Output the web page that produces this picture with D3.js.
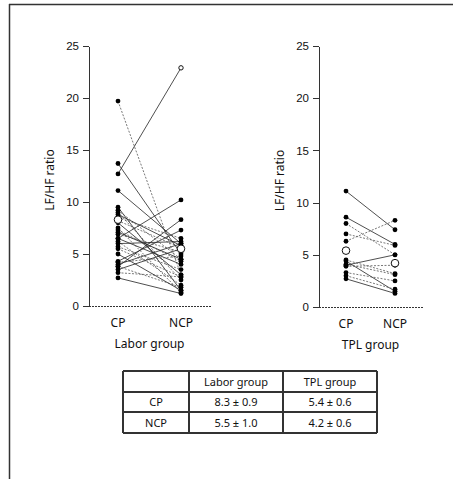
<!DOCTYPE html>
<meta charset="utf-8">
<style>
body { margin: 0; background: #fff; }
svg { font-family: "Noto Sans", "Open Sans", sans-serif; }
.axis path, .axis line { stroke: #333; stroke-width: 1; shape-rendering: crispEdges; }
.axis text { font-size: 11.5px; fill: #111; }
.pair { fill: none; stroke: #222; stroke-width: 0.8; }
.pair.dash { stroke: #555; stroke-dasharray: 2,1.5; }
.dot { fill: #000; }
.mean { fill: #fff; stroke: #111; stroke-width: 1; }
.tbl line { stroke: #333; stroke-width: 1.3; shape-rendering: crispEdges; }
.tbl text { font-size: 11px; fill: #111; text-anchor: middle; }
</style>
<svg width="453" height="479"></svg>
<script src="https://cdn.jsdelivr.net/npm/d3@7"></script>
<script>

// conditions
var conditions = ["CP", "NCP"];
var yTicks = [0, 5, 10, 15, 20, 25];

// Labor group: CP / NCP per subject, dash flag = dotted connector
var laborCP  = [19.7, 12.7, 13.7, 11.1, 9.5, 9.2, 9.0, 8.8, 8.5, 8.0, 7.5, 6.5, 6.9, 6.5, 6.2, 6.0, 5.7, 3.8, 4.3, 4.2, 4.0, 3.5, 3.2, 2.7, 3.8, 7.3, 5.0, 8.2, 7.1, 5.5];
var laborNCP = [3.0, 22.9, 5.0, 6.0, 1.5, 4.5, 2.5, 5.8, 6.5, 3.0, 1.3, 10.2, 5.2, 4.0, 2.0, 6.2, 3.5, 8.3, 7.3, 4.8, 6.0, 5.5, 2.8, 1.2, 1.8, 4.3, 1.5, 5.6, 4.5, 2.8];
var laborDash = [1, 0, 0, 0, 0, 1, 1, 0, 1, 0, 1, 0, 1, 0, 1, 0, 1, 0, 0, 1, 0, 0, 1, 0, 1, 1, 0, 1, 0, 1];
var laborMean = [8.3, 5.5];

// TPL group
var tplCP  = [11.1, 8.6, 8.0, 7.0, 6.3, 4.4, 4.1, 4.0, 3.9, 3.3, 2.7, 3.0, 4.5];
var tplNCP = [7.4, 6.0, 5.0, 5.9, 8.3, 1.5, 3.1, 5.0, 4.0, 2.5, 1.3, 1.7, 3.2];
var tplDash = [0, 0, 1, 1, 1, 0, 1, 0, 1, 1, 0, 1, 1];
var tplMean = [5.4, 4.2];

// summary table
var tableHeader = ["", "Labor group", "TPL group"];
var tableRows = [
  ["CP", "8.3 \u00b1 0.9", "5.4 \u00b1 0.6"],
  ["NCP", "5.5 \u00b1 1.0", "4.2 \u00b1 0.6"]
];

var svg = d3.select("svg");

// frame (top + left only, like the scan)
svg.append("line").attr("x1", 9).attr("y1", 4.5).attr("x2", 453).attr("y2", 4.5)
    .attr("stroke", "#333").attr("stroke-width", 1.5);
svg.append("line").attr("x1", 9.5).attr("y1", 4).attr("x2", 9.5).attr("y2", 479)
    .attr("stroke", "#333").attr("stroke-width", 1.5);

function panel(opt) {
  var g = svg.append("g");
  var y = d3.scaleLinear().domain([0, 25]).range([opt.y0, opt.y25]);
  var x = d3.scalePoint().domain(conditions).range([opt.cpX, opt.ncpX]);

  g.append("g").attr("class", "axis")
      .attr("transform", "translate(" + opt.axisX + ",0)")
      .call(d3.axisLeft(y).tickValues(yTicks).tickSize(6).tickSizeOuter(0).tickPadding(4));

  g.append("line")
      .attr("x1", opt.axisX).attr("x2", opt.axisEnd)
      .attr("y1", y(0) + 0.5).attr("y2", y(0) + 0.5)
      .attr("stroke", "#333").attr("stroke-dasharray", "2,1");

  var pairs = opt.cp.map(function(v, i) { return { cp: v, ncp: opt.ncp[i], dash: opt.dash[i] }; });

  g.selectAll(".pair").data(pairs).enter().append("line")
      .attr("class", function(d) { return d.dash ? "pair dash" : "pair"; })
      .attr("x1", x("CP")).attr("y1", function(d) { return y(d.cp); })
      .attr("x2", x("NCP")).attr("y2", function(d) { return y(d.ncp); });

  g.selectAll(".dcp").data(pairs).enter().append("circle")
      .attr("class", "dot").attr("r", 2.4)
      .attr("cx", x("CP")).attr("cy", function(d) { return y(d.cp); });
  g.selectAll(".dncp").data(pairs).enter().append("circle")
      .attr("class", "dot").attr("r", 2.4)
      .attr("cx", x("NCP")).attr("cy", function(d) { return y(d.ncp); })
      .filter(function(d) { return d.ncp > 20; })
      .attr("class", "mean").attr("r", 2.2);

  g.selectAll(".mean-pt").data(opt.mean).enter().append("circle")
      .attr("class", "mean").attr("r", 3.8)
      .attr("cx", function(d, i) { return x(conditions[i]); })
      .attr("cy", function(d) { return y(d); });

  g.selectAll(".cond").data(conditions).enter().append("text")
      .attr("x", function(d) { return x(d); }).attr("y", opt.y0 + 21)
      .attr("text-anchor", "middle").style("font-size", "12px").attr("fill", "#111")
      .text(function(d) { return d; });

  g.append("text")
      .attr("x", (opt.cpX + opt.ncpX) / 2).attr("y", opt.y0 + 42)
      .attr("text-anchor", "middle").style("font-size", "12px").attr("fill", "#111")
      .text(opt.title);

  g.append("text")
      .attr("transform", "translate(" + opt.labelX + "," + ((opt.y0 + opt.y25) / 2 + 4) + ") rotate(-90)")
      .attr("text-anchor", "middle").style("font-size", "12px").attr("fill", "#111")
      .text("LF/HF ratio");
}

panel({ axisX: 89, axisEnd: 211, cpX: 118, ncpX: 181, y0: 306, y25: 46, labelX: 54,
        cp: laborCP, ncp: laborNCP, dash: laborDash, mean: laborMean, title: "Labor group" });
panel({ axisX: 319, axisEnd: 423, cpX: 346, ncpX: 395, y0: 307, y25: 46, labelX: 284,
        cp: tplCP, ncp: tplNCP, dash: tplDash, mean: tplMean, title: "TPL group" });

// table
var colX = [123, 189, 283, 377];
var rowY = [371, 392, 412, 433];
var tbl = svg.append("g").attr("class", "tbl");
colX.forEach(function(cx) {
  tbl.append("line").attr("x1", cx).attr("x2", cx).attr("y1", rowY[0]).attr("y2", rowY[3]);
});
rowY.forEach(function(ry) {
  tbl.append("line").attr("x1", colX[0]).attr("x2", colX[3]).attr("y1", ry).attr("y2", ry);
});
[tableHeader].concat(tableRows).forEach(function(row, r) {
  row.forEach(function(cell, c) {
    tbl.append("text")
        .attr("x", (colX[c] + colX[c + 1]) / 2)
        .attr("y", (rowY[r] + rowY[r + 1]) / 2 + 4)
        .text(cell);
  });
});

</script>
